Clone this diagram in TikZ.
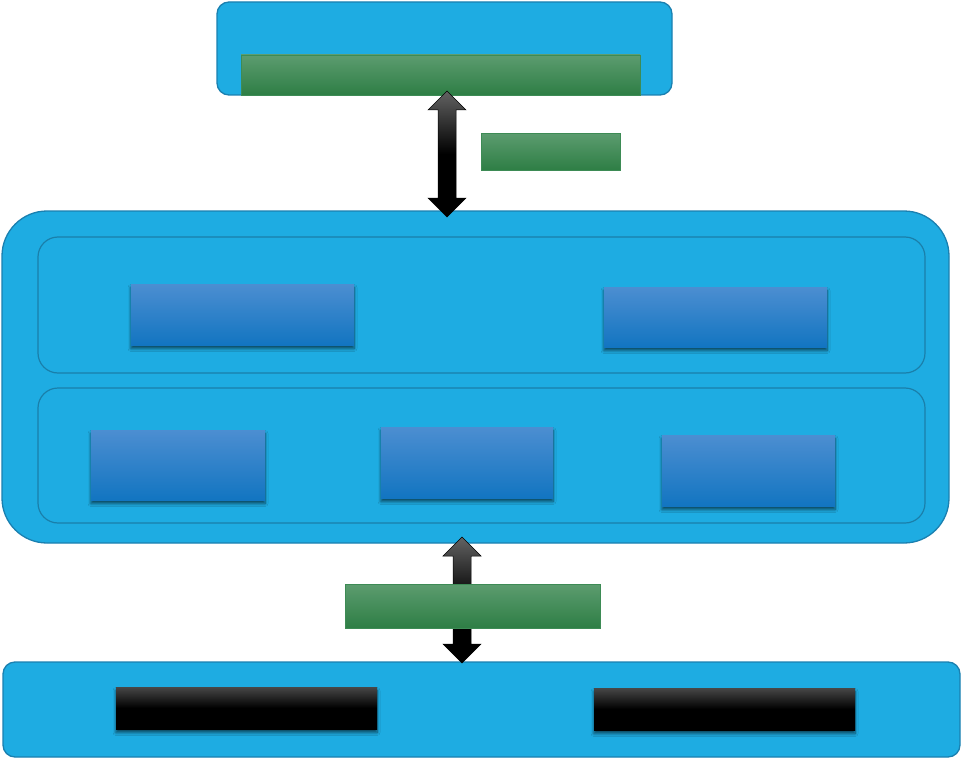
\documentclass[tikz,border=0pt]{standalone}
\usetikzlibrary{shadows.blur,calc}
\definecolor{panel}{HTML}{1EACE2}
\definecolor{panelline}{HTML}{1A80B0}
\definecolor{innerline}{HTML}{1A7FAA}
\definecolor{gtop}{HTML}{5C9C6F}
\definecolor{gbot}{HTML}{2E7E45}
\definecolor{gline}{HTML}{3D8B55}
\definecolor{btop}{HTML}{4C8ED1}
\definecolor{bbot}{HTML}{1275C1}
\definecolor{ktop}{HTML}{474747}
\tikzset{
  panelbox/.style={draw=panelline, fill=panel, line width=1.3pt, inner sep=0pt, outer sep=0pt, anchor=north west},
  innerbox/.style={draw=innerline, line width=1.2pt, rounded corners=20pt, inner sep=0pt, outer sep=0pt, anchor=north west},
  greenbar/.style={draw=gline, line width=0.6pt, top color=gtop, bottom color=gbot, inner sep=0pt, outer sep=0pt, anchor=north west},
  boxshadow/.style={blur shadow={shadow xshift=0pt, shadow yshift=-3.5pt, shadow blur radius=3pt, shadow opacity=60, shadow blur steps=6}},
  bluebox/.style={top color=btop, bottom color=bbot, inner sep=0pt, outer sep=0pt, anchor=north west, boxshadow},
  blackbox/.style={top color=ktop, bottom color=black, middle color=black, inner sep=0pt, outer sep=0pt, anchor=north west, boxshadow},
  blockarrow/.style={draw=black, line width=0.5pt, top color=ktop!85!white, bottom color=black, middle color=black}
}
\begin{document}
\begin{tikzpicture}[x=1pt,y=-1pt]
\useasboundingbox (0,0) rectangle (962,760);
% top panel
\node[panelbox, rounded corners=12pt, minimum width=455pt, minimum height=93pt] (top) at (217,2) {};
\node[greenbar, minimum width=399pt, minimum height=40pt] (topbar) at (241,55) {};
% middle panel
\node[panelbox, rounded corners=45pt, minimum width=947pt, minimum height=332pt] (mid) at (2,211) {};
\node[innerbox, minimum width=887pt, minimum height=136pt] (row1) at (38,237) {};
\node[innerbox, minimum width=887pt, minimum height=135pt] (row2) at (38,388) {};
\node[bluebox, minimum width=223pt, minimum height=61pt] (a) at (131,284) {};
\node[bluebox, minimum width=223pt, minimum height=60pt] (b) at (604,287) {};
\node[bluebox, minimum width=174pt, minimum height=70pt] (c) at (91,430) {};
\node[bluebox, minimum width=172pt, minimum height=71pt] (d) at (381,427) {};
\node[bluebox, minimum width=173pt, minimum height=71pt] (e) at (662,435) {};
% bottom panel
\node[panelbox, rounded corners=12pt, minimum width=957pt, minimum height=95pt] (bot) at (3,662) {};
\node[blackbox, minimum width=261pt, minimum height=42pt] (k1) at (116,687) {};
\node[blackbox, minimum width=261pt, minimum height=42pt] (k2) at (594,688) {};
% arrow 1
\coordinate (t1) at (447,91);
\coordinate (b1) at (447,217);
\path[blockarrow] (t1) -- ($(t1)+(19,19)$) -- ($(t1)+(9,19)$) -- ($(b1)+(9,-19)$) -- ($(b1)+(19,-19)$) -- (b1)
  -- ($(b1)+(-19,-19)$) -- ($(b1)+(-9,-19)$) -- ($(t1)+(-9,19)$) -- ($(t1)+(-19,19)$) -- cycle;
\node[greenbar, minimum width=139pt, minimum height=37pt] (lab1) at (481,133) {};
% arrow 2
\coordinate (t2) at (462,537);
\coordinate (b2) at (462,663);
\path[blockarrow] (t2) -- ($(t2)+(19,19)$) -- ($(t2)+(9,19)$) -- ($(b2)+(9,-19)$) -- ($(b2)+(19,-19)$) -- (b2)
  -- ($(b2)+(-19,-19)$) -- ($(b2)+(-9,-19)$) -- ($(t2)+(-9,19)$) -- ($(t2)+(-19,19)$) -- cycle;
\node[greenbar, minimum width=255pt, minimum height=44pt] (lab2) at (345,584) {};
\end{tikzpicture}
\end{document}
